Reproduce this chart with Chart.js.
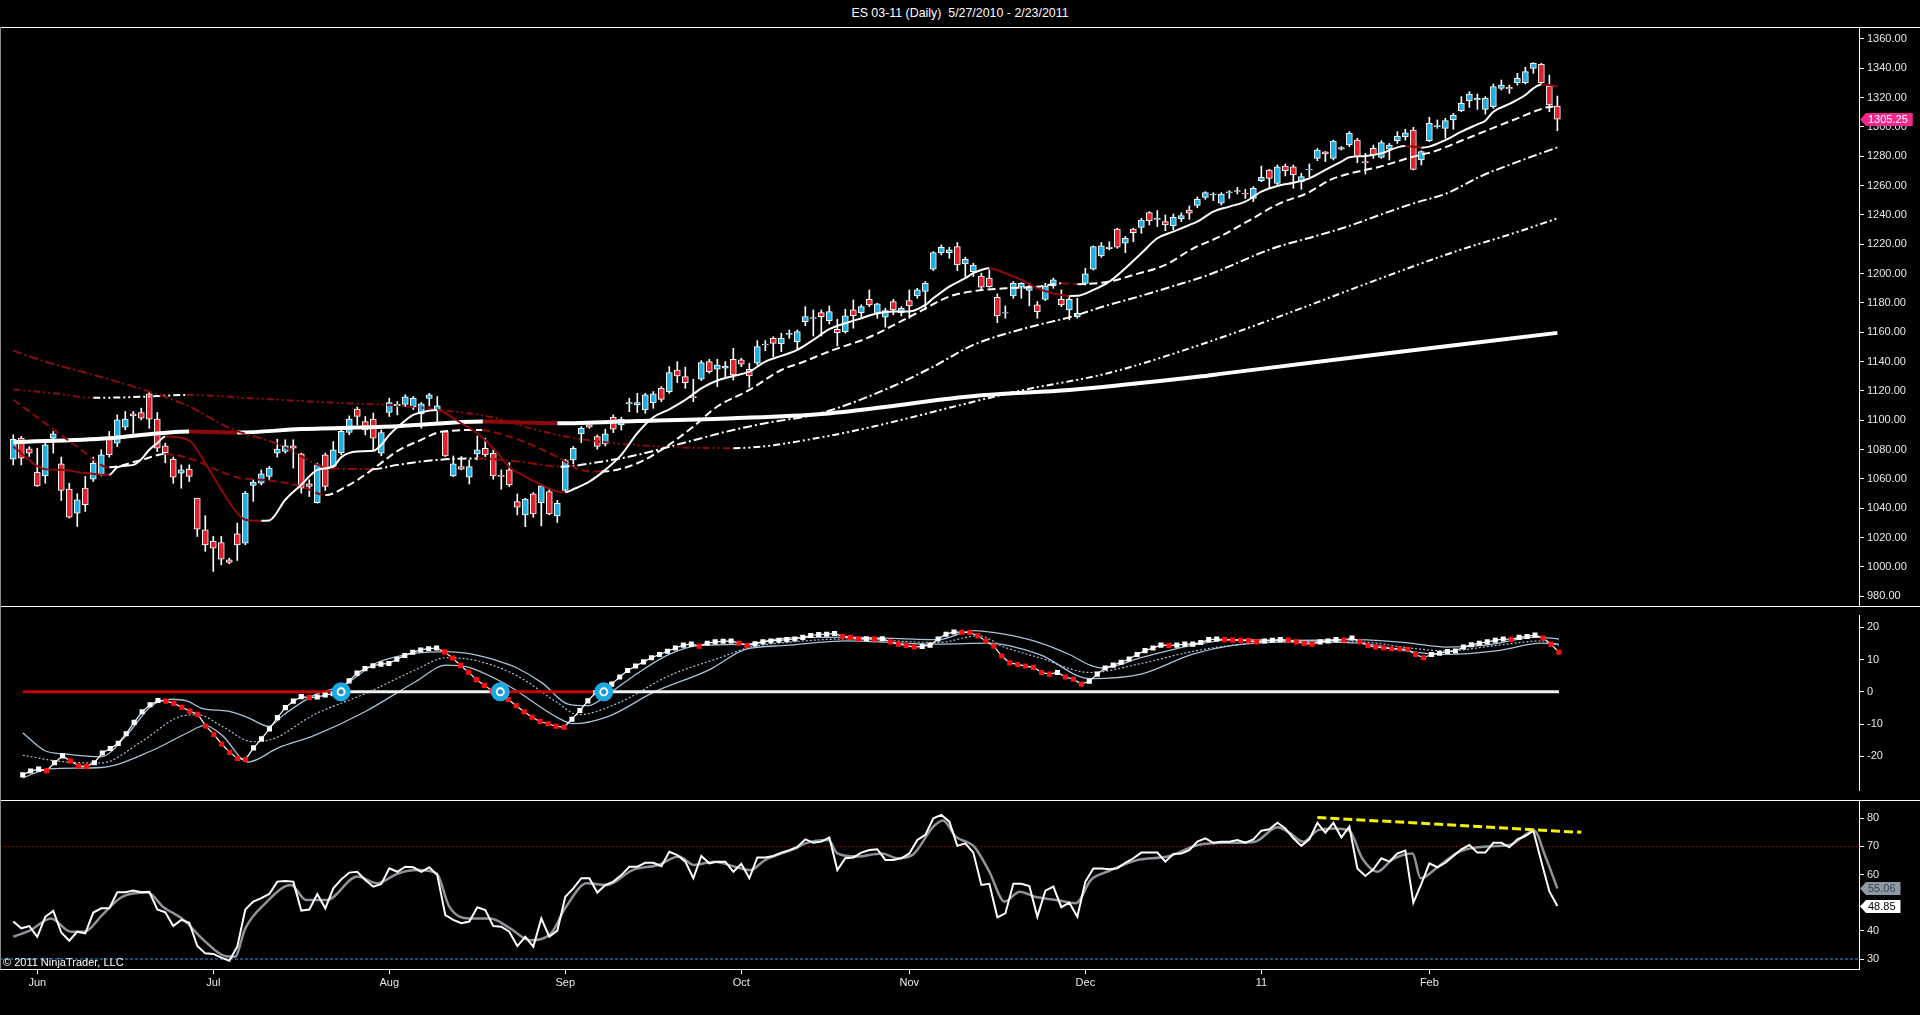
<!DOCTYPE html>
<html>
<head>
<meta charset="utf-8">
<script src="https://cdn.jsdelivr.net/npm/chart.js@4.4.1/dist/chart.umd.min.js"></script>
<style>
html,body{margin:0;padding:0;background:#000;width:1920px;height:1015px;overflow:hidden;}
canvas{position:absolute;left:0;}
.hl{position:absolute;left:0;height:1px;background:#fff;}
#title{position:absolute;top:6px;left:0;width:1920px;text-align:center;color:#fff;font:12.4px "Liberation Sans",Arial,sans-serif;line-height:14px;}
#copy{position:absolute;left:3px;top:956px;color:#fff;font:11px "Liberation Sans",Arial,sans-serif;line-height:13px;}
#lv{position:absolute;left:0;top:27px;width:1px;height:942px;background:#8a8a8a;}
</style>
</head>
<body>
<div id="title">ES 03-11 (Daily)&nbsp; 5/27/2010 - 2/23/2011</div>
<canvas id="c1" width="1920" height="579" style="top:27px;width:1920px;height:579px"></canvas>
<canvas id="c2" width="1920" height="194" style="top:606px;width:1920px;height:194px"></canvas>
<canvas id="c3" width="1920" height="215" style="top:800px;width:1920px;height:215px"></canvas>
<div class="hl" style="top:27px;width:1920px"></div>
<div class="hl" style="top:606px;width:1920px"></div>
<div class="hl" style="top:800px;width:1920px"></div>
<div id="lv"></div>
<div id="copy">© 2011 NinjaTrader, LLC</div>
<script>
// ---------------- DATA ----------------
const monthIdx = [3,25,47,69,91,112,134,156,177];
const monthLbl = ['Jun','Jul','Aug','Sep','Oct','Nov','Dec','11','Feb'];
const priceTicks = [980,1000,1020,1040,1060,1080,1100,1120,1140,1160,1180,1200,1220,1240,1260,1280,1300,1320,1340,1360];
const oscTicks = [-20,-10,0,10,20];
const rsiTicks = [30,40,60,70,80];

const openP = [
1073.5,1087.8,1080.5,1064.6,1062.1,1087.8,1070.3,1053.1,1036.7,1053.7,
1059.9,1063.5,1087.1,1084.4,1095.3,1104.4,1105.3,1118.0,1100.8,1082.6,
1073.5,1063.9,1066.7,1046.9,1025.3,1017.4,1016.7,1004.9,1022.6,1016.2,
1055.6,1057.1,1061.7,1077.6,1078.7,1082.6,1077.1,1056.7,1043.9,1076.5,
1068.5,1078.0,1091.7,1107.6,1099.2,1100.8,1077.6,1105.3,1110.0,1110.8,
1109.2,1104.4,1115.0,1106.6,1092.3,1062.1,1068.4,1061.2,1077.1,1080.9,
1077.5,1062.5,1066.2,1044.6,1035.5,1049.8,1043.9,1051.4,1034.8,1052.1,
1073.0,1090.7,1096.9,1088.9,1083.9,1102.1,1096.9,1111.1,1110.5,1107.1,
1112.1,1121.8,1119.6,1134.3,1129.8,1116.2,1128.0,1140.0,1134.8,1135.5,
1141.6,1141.2,1134.8,1138.9,1151.4,1155.9,1152.0,1158.6,1153.6,1167.3,
1169.4,1173.4,1168.0,1162.1,1160.5,1175.3,1173.4,1182.5,1172.5,1170.3,
1180.9,1173.4,1181.6,1184.8,1187.8,1203.0,1214.3,1214.3,1218.4,1206.6,
1201.4,1198.4,1196.9,1183.9,1173.0,1184.8,1190.7,1188.5,1178.7,1182.5,
1191.6,1182.5,1175.3,1170.7,1193.4,1203.0,1212.1,1217.1,1230.3,1220.7,
1230.3,1231.6,1241.6,1237.0,1235.5,1232.5,1237.5,1243.4,1246.5,1252.0,
1253.6,1248.0,1255.0,1256.1,1254.7,1251.3,1263.4,1270.7,1261.6,1273.4,
1272.9,1262.7,1270.7,1278.6,1283.0,1278.6,1284.8,1287.7,1291.1,1276.4,
1285.4,1279.3,1284.8,1290.7,1293.4,1297.9,1277.5,1290.7,1300.2,1299.1,
1304.8,1311.1,1317.9,1318.4,1312.0,1313.8,1326.3,1327.0,1330.2,1330.2,
1340.0,1342.7,1327.9,1314.3];
const highP = [
1090.1,1089.0,1082.0,1081.0,1085.5,1092.4,1074.9,1057.1,1049.9,1061.7,
1074.9,1079.9,1092.4,1103.7,1106.0,1106.0,1108.3,1119.6,1105.3,1084.4,
1074.9,1069.6,1069.6,1046.9,1034.9,1020.8,1020.8,1006.0,1029.9,1051.5,
1059.4,1066.2,1068.5,1087.1,1086.7,1086.7,1077.6,1059.4,1070.8,1077.6,
1085.5,1093.5,1103.0,1109.0,1102.6,1104.9,1093.5,1115.1,1112.8,1117.4,
1116.2,1112.1,1118.4,1116.2,1092.3,1075.7,1075.3,1073.0,1089.3,1087.8,
1079.8,1066.2,1071.2,1049.8,1046.9,1050.7,1055.9,1053.7,1045.3,1073.4,
1082.1,1095.7,1098.0,1090.0,1093.9,1103.7,1102.1,1115.0,1118.4,1118.4,
1119.6,1123.0,1136.6,1140.0,1136.2,1128.0,1140.7,1141.6,1141.6,1140.0,
1149.1,1142.3,1138.9,1154.3,1154.3,1157.0,1159.3,1161.6,1161.6,1177.5,
1175.3,1175.3,1178.0,1168.9,1175.7,1182.1,1178.7,1188.9,1179.8,1176.4,
1182.5,1177.5,1188.9,1190.0,1194.6,1215.0,1219.6,1218.0,1221.2,1211.2,
1207.1,1200.3,1202.5,1186.2,1178.0,1194.6,1193.9,1193.4,1181.0,1193.4,
1196.9,1188.9,1184.3,1183.2,1203.7,1218.9,1221.2,1221.8,1231.0,1225.3,
1231.0,1237.7,1242.3,1243.0,1240.0,1240.7,1241.4,1246.2,1252.3,1255.9,
1255.2,1255.2,1256.6,1258.8,1257.5,1259.3,1273.4,1271.1,1274.1,1274.8,
1274.1,1268.4,1274.8,1285.4,1283.2,1291.1,1286.6,1296.8,1292.3,1282.0,
1287.7,1290.7,1288.8,1296.8,1298.4,1299.8,1283.8,1306.6,1304.8,1305.9,
1309.3,1320.7,1324.1,1322.5,1320.7,1329.3,1332.0,1328.6,1336.6,1340.7,
1343.8,1343.4,1335.4,1321.1];
const lowP = [
1069.6,1069.6,1075.3,1054.9,1057.1,1077.6,1045.3,1033.3,1027.6,1037.8,
1058.3,1062.1,1074.9,1082.1,1093.5,1091.0,1100.3,1094.6,1078.7,1071.0,
1057.1,1053.7,1058.3,1020.8,1010.6,996.9,1001.5,1002.2,1004.4,1015.1,
1044.7,1056.0,1059.4,1074.9,1077.6,1067.4,1050.3,1048.0,1043.5,1052.1,
1067.4,1076.5,1090.1,1096.9,1090.1,1079.9,1075.8,1102.6,1103.7,1109.4,
1107.3,1094.6,1109.8,1099.1,1075.3,1061.6,1066.2,1056.6,1073.0,1075.3,
1059.8,1053.0,1054.8,1035.5,1027.5,1033.9,1028.0,1035.5,1030.3,1051.4,
1070.3,1084.8,1094.6,1080.3,1082.5,1091.6,1093.4,1105.9,1105.3,1104.8,
1108.2,1112.7,1118.4,1125.7,1121.8,1112.7,1127.1,1132.1,1123.0,1128.7,
1127.5,1136.6,1122.5,1137.7,1147.5,1143.4,1146.8,1155.9,1147.5,1164.4,
1157.5,1157.5,1165.7,1150.7,1159.4,1162.8,1170.7,1177.5,1169.6,1163.5,
1171.9,1171.2,1169.6,1183.2,1175.3,1202.1,1212.8,1210.5,1202.1,1198.0,
1198.0,1189.4,1190.7,1166.6,1169.6,1183.2,1183.2,1178.0,1169.6,1181.6,
1190.0,1177.5,1168.5,1169.6,1192.3,1202.5,1211.2,1216.2,1217.3,1214.3,
1221.8,1227.5,1233.2,1232.1,1229.3,1229.8,1235.5,1237.0,1245.0,1250.7,
1249.8,1246.8,1251.3,1254.3,1251.3,1249.1,1262.7,1258.2,1260.4,1266.6,
1258.2,1257.5,1266.1,1277.0,1276.4,1277.5,1284.3,1286.6,1275.7,1267.9,
1278.6,1278.6,1277.5,1288.8,1291.1,1270.7,1274.1,1290.0,1299.1,1292.3,
1298.4,1310.4,1313.4,1312.0,1308.8,1312.7,1325.2,1322.9,1328.6,1329.3,
1336.6,1329.3,1310.4,1297.5];
const closeP = [
1087.1,1074.2,1077.6,1055.3,1083.3,1090.8,1052.1,1034.0,1045.8,1042.4,
1070.8,1076.5,1076.5,1100.3,1100.8,1103.0,1101.5,1100.8,1081.0,1078.0,
1061.2,1066.2,1061.7,1025.8,1015.1,1012.8,1005.3,1003.1,1015.1,1050.3,
1057.8,1063.5,1067.4,1080.3,1082.6,1081.0,1053.7,1054.9,1069.6,1054.9,
1079.9,1092.4,1100.8,1102.6,1093.5,1087.8,1091.7,1112.1,1111.0,1116.0,
1115.0,1111.2,1117.3,1109.8,1075.7,1070.3,1066.6,1068.4,1079.8,1076.4,
1062.1,1061.7,1055.9,1040.7,1046.2,1036.2,1055.3,1036.2,1043.4,1072.5,
1080.9,1094.6,1095.3,1082.1,1090.7,1093.9,1100.7,1112.0,1112.1,1117.3,
1118.0,1114.3,1132.5,1130.2,1125.7,1115.5,1139.3,1133.2,1137.7,1137.0,
1130.9,1138.2,1130.2,1150.2,1151.9,1152.5,1155.9,1159.3,1160.5,1170.7,
1170.0,1170.7,1174.1,1159.8,1171.2,1171.4,1177.5,1178.7,1179.4,1174.8,
1175.3,1176.4,1178.0,1188.9,1193.4,1214.3,1218.0,1216.2,1205.9,1209.8,
1205.9,1190.7,1191.2,1171.2,1173.4,1193.4,1193.4,1191.6,1174.1,1191.6,
1195.7,1178.7,1182.5,1173.0,1199.8,1218.4,1218.9,1218.0,1218.0,1224.1,
1228.0,1236.6,1236.2,1237.7,1233.2,1238.4,1239.6,1241.2,1250.7,1255.2,
1254.3,1254.3,1255.8,1256.6,1254.3,1258.2,1265.7,1265.0,1272.9,1270.2,
1267.3,1266.1,1271.1,1284.3,1281.6,1290.4,1285.9,1295.7,1279.8,1275.7,
1280.9,1289.3,1287.7,1293.8,1296.1,1271.1,1283.2,1302.5,1300.9,1304.3,
1307.9,1316.1,1322.5,1319.5,1319.5,1327.5,1328.6,1326.1,1333.2,1337.7,
1343.4,1330.2,1315.0,1305.25];

// moving averages: [bar index, value]
const ma10 = [[0,1082.1],[4,1066.7],[6,1066.2],[9,1064],[12,1062.8],[13,1068],[15,1069.6],[16,1073.5],[17,1079.9],[18,1084.4],[19,1089],[22,1086.2],[24,1070.8],[26,1052.6],[28,1036.7],[29,1032.2],[31,1031.5],[32,1031.7],[34,1045.8],[36,1056],[38,1066.2],[40,1068.5],[41,1074.9],[43,1078.7],[45,1079.2],[46,1083.3],[47,1090.1],[49,1099.9],[50,1103.7],[52,1106.6],[53,1107.1],[54,1104.8],[56,1098],[58,1091.2],[60,1080.9],[62,1068.4],[64,1061.6],[66,1055.9],[68,1051.4],[69,1050.9],[70,1053],[72,1058.2],[74,1066.2],[76,1076.4],[78,1091.2],[80,1102.1],[82,1107.5],[84,1113.9],[86,1121.8],[88,1127.1],[90,1130.2],[92,1133.2],[94,1140],[96,1143.9],[98,1148],[100,1154.8],[102,1162.1],[104,1166.2],[106,1169.6],[108,1173],[110,1174.1],[112,1174.2],[114,1178.7],[115,1183.2],[117,1191.2],[119,1196.9],[120,1200.3],[122,1203.7],[124,1200.3],[126,1195.7],[128,1190],[130,1186.6],[132,1184.8],[133,1184.9],[135,1188.9],[137,1194.6],[139,1203.7],[141,1213.9],[143,1224.1],[145,1228.7],[147,1233.2],[148,1235.4],[150,1242.3],[152,1245.7],[154,1249.1],[156,1255.9],[158,1259.8],[160,1262],[162,1265],[164,1270.7],[166,1276.4],[167,1279.3],[169,1280.2],[171,1282],[173,1286.1],[174,1287],[175,1286.6],[176,1285.9],[177,1286.6],[179,1291.1],[181,1296.8],[183,1301.8],[184,1304.3],[185,1310.4],[187,1315.7],[189,1321.8],[190,1326.3],[191,1329],[192,1328.6],[193,1327.5]];
const ma20 = [[0,1114],[4,1098],[8,1082],[12,1068],[16,1073],[19,1077],[22,1074],[28,1061],[32,1059],[36,1055],[39,1049],[42,1056],[44,1063],[46,1071],[48,1079],[51,1086.7],[53.6,1092.3],[58.6,1093.4],[60,1092],[64,1085],[68,1075],[71,1066],[73.5,1065],[78,1070.7],[81.6,1082],[85,1095.7],[88,1109.4],[92,1120.7],[96,1134.3],[98.3,1138.9],[102.5,1148],[106.7,1156],[112.9,1173],[117,1184.4],[120.4,1188.4],[124,1190],[128,1191],[131,1193.4],[133,1192.8],[137,1194.6],[140,1199.1],[144,1206],[147.5,1217.3],[150.8,1225.2],[154.2,1235.4],[158.3,1247.9],[161.7,1254.8],[164.6,1263.9],[167.1,1268.4],[170.8,1272.9],[175,1279.8],[177.5,1283.2],[181.2,1291.1],[183.3,1295.7],[187.5,1304.8],[191.7,1313.4],[193,1314.3]];
const ma50 = [[0,1147.5],[4,1140],[10,1131],[17,1119.6],[22,1109.4],[27,1094.8],[33,1084],[40,1067],[45,1066.7],[48,1069.6],[53,1073],[58,1074],[63,1072],[68.4,1068.4],[73.5,1071.8],[78,1076.4],[82,1082],[86,1087.8],[90,1093.4],[94,1098],[101,1105],[109.4,1121.9],[115,1136.6],[120,1151.4],[126.5,1162.8],[132.3,1170.7],[136.5,1178],[140.7,1184.4],[144.8,1191.2],[149,1198.4],[157.5,1217.3],[162.5,1225.2],[166.7,1232],[170.8,1240],[175,1247.9],[179.2,1254.8],[183.3,1266.1],[187.5,1275.2],[193,1286.1]];
const ma100 = [[0,1121],[5,1118.5],[10,1115.3],[16,1116],[21.7,1117.3],[30,1115],[40,1112],[48,1110],[55,1106],[60,1102],[65,1094],[70,1088],[78,1083],[90,1081],[101,1088.4],[126.3,1120.7],[136.8,1132.1],[148.3,1151.4],[180.8,1216.1],[187.5,1227.5],[193,1237.7]];
const ma200 = [[0,1085],[12,1087.8],[22,1092.4],[28,1091.7],[36,1094],[48,1096],[58.7,1099.1],[68,1098],[78,1099.5],[90,1101.4],[101,1104.3],[121,1117],[132,1120.7],[148.3,1129.8],[151.4,1132],[170,1144.5],[193,1159.6]];

// oscillator panel
const osc = [
-25.8,-24.6,-24.0,-24.5,-22.0,-19.9,-21.5,-23.0,-23.2,-22.0,
-19.0,-17.6,-16.0,-13.0,-9.5,-6.2,-4.0,-2.7,-2.9,-3.6,
-4.8,-6.0,-7.0,-10.6,-13.2,-16.2,-18.8,-20.7,-21.0,-17.4,
-14.6,-11.5,-8.0,-4.9,-2.9,-1.5,-1.8,-1.6,-1.0,-0.6,
0.5,3.4,5.8,7.2,8.1,8.6,8.8,10.1,11.3,12.3,
13.0,13.4,13.6,12.4,10.5,8.2,6.1,3.8,2.0,0.3,
-1.0,-2.4,-4.3,-6.2,-7.9,-9.2,-9.9,-10.7,-11.0,-8.5,
-5.8,-2.8,-0.2,1.2,2.4,4.6,6.6,8.0,9.3,10.6,
11.6,12.6,13.6,14.5,14.8,14.2,15.1,15.5,15.7,15.8,
15.1,14.4,14.9,15.5,15.8,16.0,16.2,16.4,16.9,17.5,
17.8,17.9,18.1,17.2,16.9,16.5,16.5,16.4,16.5,15.5,
14.8,14.4,13.9,14.1,14.5,16.4,17.9,18.6,18.5,18.4,
17.4,15.8,14.2,11.1,9.0,8.5,8.0,7.6,6.0,5.5,
6.0,4.6,3.9,2.4,3.3,5.5,7.4,8.3,9.2,10.2,
11.6,12.8,13.6,14.5,14.4,14.5,14.8,14.8,15.3,16.2,
16.4,16.2,16.1,16.0,15.9,15.5,15.8,16.0,16.2,16.1,
15.5,15.0,14.8,15.5,15.8,16.2,16.1,16.7,15.5,14.4,
13.9,13.6,13.4,13.3,13.2,11.6,10.6,11.6,12.0,12.5,
12.7,13.9,14.6,15.1,15.5,16.0,16.4,16.3,16.9,17.2,
17.6,16.7,14.8,12.3];
const oscA = [[0,-12.7],[2.8,-18.3],[5.3,-19.3],[9.8,-20.2],[13,-13.6],[16.2,-4.3],[18.7,-2.3],[20.7,-2.9],[22.6,-5.2],[25.8,-6.0],[28.3,-8.0],[30.9,-10.7],[32.8,-7.1],[36.6,-1.0],[40.4,2.2],[44.3,8.8],[49.4,12.0],[53.2,12.5],[55.7,12.0],[59.6,9.7],[62.1,7.4],[65.3,2.7],[68.5,-3.8],[71,-4.3],[73.6,-0.6],[77.4,6.0],[81.2,11.6],[85,14.4],[90.8,14.8],[95.8,16.7],[103.5,17],[115,16.2],[119.4,19.0],[123.3,17.9],[127.7,15.3],[131.5,11.6],[134.1,8.3],[135.7,7.4],[140.5,10.6],[146.9,14.4],[152,16.2],[159.6,16],[167.9,16.2],[174.3,15.1],[178.8,13.9],[183.8,14.5],[190.2,17],[193,16.4]];
const oscB = [[0,-19.7],[4.7,-21.6],[9.8,-22.1],[14.9,-15.5],[19.4,-8.0],[22,-7.1],[25.1,-10.8],[28.9,-15.5],[31.5,-14.6],[36.6,-7.1],[43,-0.6],[49.4,6.9],[53.2,10.6],[57,9.7],[62.1,5.0],[67.2,-3.4],[69.8,-7.1],[74.9,-3.4],[81.2,5.0],[87.6,10.6],[91.4,13.9],[95.8,15.3],[103.5,16.4],[115,15.3],[120.1,17.4],[123.3,13.9],[127.7,10.6],[134.1,6],[140.5,8.8],[146.9,12.5],[153.2,14.8],[159.6,15.5],[167.9,15.5],[174.3,13.6],[178.8,12.7],[185.1,14.4],[190.9,15.8],[193,14.4]];
const oscC = [[0,-26.7],[3.4,-23.9],[9.8,-23.5],[16.2,-18.3],[20.7,-12.7],[22.9,-10.4],[25.1,-13.6],[28.3,-21.8],[32.1,-17.4],[36.6,-13.6],[43,-6.2],[49.4,3.2],[53.2,8.3],[55.7,7.8],[60.8,2.2],[67.2,-8.0],[69.1,-9.9],[73.6,-7.6],[79.3,-0.1],[86.3,6.9],[90.8,13.2],[95.8,14.4],[103.5,15.8],[115,14.8],[121.3,15.1],[127.7,11.6],[134.1,4.1],[140.5,5.5],[146.9,11.6],[152,14.4],[159.6,15.5],[167.9,15.1],[174.3,12.5],[178.8,11.6],[185.1,12.7],[190.9,15.1],[193,14.8]];

// RSI panel
const rsi = [
43.3,40.9,41.7,37.9,45.0,47.1,39.4,36.5,39.7,39.1,
46.5,48.0,48.0,53.7,53.7,54.3,53.7,53.9,47.6,46.6,
41.7,43.9,42.9,34.6,32.0,31.8,30.5,29.4,34.4,47.6,
50.4,51.6,53.1,57.5,57.7,57.5,47.2,47.6,53.1,48.0,
55.1,58.3,60.7,61.0,58.1,55.7,56.7,62.2,61.0,62.8,
62.6,61.0,62.6,59.8,45.6,43.9,42.7,43.3,48.4,47.4,
41.7,41.5,39.7,34.6,37.9,34.4,44.4,37.9,40.1,52.1,
55.1,58.7,58.7,53.6,56.3,57.5,59.8,62.8,62.8,64.2,
64.2,63.0,68.1,66.9,64.6,58.7,66.6,64.0,64.6,64.6,
61.0,63.8,58.7,66.1,66.1,66.6,67.8,68.7,69.8,72.5,
71.3,71.7,73.2,61.6,65.8,66.1,67.8,68.7,69.0,65.2,
65.2,65.8,67.5,72.3,74.1,80.0,81.2,78.8,70.2,71.1,
67.8,56.3,56.7,44.8,46.2,56.7,56.7,55.9,45.0,54.3,
55.7,48.4,50.0,45.0,57.5,62.2,62.2,61.9,62.2,64.2,
65.8,67.8,67.8,67.8,64.6,67.3,67.5,68.7,71.7,72.9,
71.3,71.7,71.7,72.3,71.3,72.5,75.6,76.1,78.4,76.4,
72.9,70.2,72.5,78.4,74.9,78.4,73.2,77.0,62.2,59.5,
61.9,65.8,64.6,67.5,68.5,50.0,56.7,64.0,62.6,64.2,
66.6,69.0,70.5,67.8,67.8,71.3,71.3,69.7,72.5,73.7,
75.6,64.6,54.0,48.85];
const rsiAvg = [[0,37.9],[2.2,40.3],[4.7,44.4],[7.2,39.7],[8.9,39.7],[11.1,45.6],[13.6,52.1],[16.8,53.6],[18.7,48.6],[21.3,43.9],[23.8,36.7],[26.4,31.1],[27.7,30.8],[29,40.9],[31.5,49.8],[34.7,56.3],[36.6,51],[39.2,51],[43,59.3],[45.5,56.9],[48.1,60.4],[50.6,61.6],[52.9,60.4],[54.5,48.6],[57,44.4],[59.6,44.4],[62.1,40.9],[64.6,36.7],[67.2,39.1],[69.1,48.6],[71.7,56.9],[74.2,56.3],[77.4,61.6],[80.6,63.4],[83.2,66.4],[85.1,63.4],[87.6,64.6],[90.2,62.8],[92.1,61.6],[94,65.2],[97.8,69.3],[99,71.1],[101.9,72.3],[103,67.5],[105.4,66.4],[108.6,67.5],[110.5,65.8],[112.4,67],[115,77],[116.2,79.2],[117.8,73.5],[120.1,69.9],[122,61],[123.9,50.4],[125.8,53.9],[127.7,52.1],[130.3,51],[132.8,49.8],[134.7,58.1],[136.7,61],[140.5,65.2],[144.3,66.4],[148.1,70.5],[152,71.3],[155.2,71.7],[158,76.8],[159.6,74.7],[161.2,71.7],[163.1,75.8],[165,76.4],[167,75.6],[168.6,65.8],[170.5,61],[172.4,65.4],[174.9,67.5],[175.9,58.7],[178.1,62.8],[180.7,68.1],[183.8,69.9],[187,70.5],[190.1,75.6],[191.5,66.4],[193,55.06]];
const rsiLevelHigh = 70;
const rsiLevelLow = 30;
const trendLine = [[163,80.3],[196,75.0]];

// ---------------- STYLE ----------------
const FONT = '"Liberation Sans", Arial, sans-serif';
const X_MIN = -1.66, X_MAX = 230.7;
const UP = '#1eaee6', DOWN = '#e3202a', MA_RED = '#8e0a0a';
const LBLUE = '#a6c3da';

function pts(pairs){ return pairs.map(p => ({x:p[0], y:p[1]})); }
function seriesPts(arr){ return arr.map((v,i) => ({x:i, y:v})); }

const tagPlugin = {
  id:'tags',
  afterDraw(chart, args, opts){
    const tags = opts.items || [];
    const ctx = chart.ctx, ys = chart.scales.y;
    const x0 = chart.chartArea.right + 1;
    ctx.save();
    ctx.font = '11px ' + FONT;
    tags.forEach(t => {
      const py = Math.round(ys.getPixelForValue(t.value)) + 0.5;
      const w = ctx.measureText(t.text).width + 7;
      const h = 13;
      ctx.beginPath();
      ctx.moveTo(x0, py);
      ctx.lineTo(x0 + 6, py - h/2);
      ctx.lineTo(x0 + 6 + w, py - h/2);
      ctx.lineTo(x0 + 6 + w, py + h/2);
      ctx.lineTo(x0 + 6, py + h/2);
      ctx.closePath();
      ctx.fillStyle = t.fill; ctx.fill();
      ctx.fillStyle = t.color;
      ctx.textBaseline = 'middle';
      ctx.fillText(t.text, x0 + 8, py + 0.5);
    });
    ctx.restore();
  }
};

function makeOptions(yMin, yMax, yTicks, fmt, showX, tags){
  return {
    responsive:false, animation:false, devicePixelRatio:1, events:[],
    layout:{padding:0},
    plugins:{legend:{display:false}, tooltip:{enabled:false}, title:{display:false}, tags:{items:tags}},
    scales:{
      x:{type:'linear', min:X_MIN, max:X_MAX, offset:false, bounds:'data', display:showX,
         grid:{display:true, drawOnChartArea:false, drawTicks:true, tickLength:5, color:'#fff'},
         border:{display:true, color:'#fff', width:1},
         ticks:{autoSkip:false, maxRotation:0, color:'#e8e8e8', padding:2, font:{family:FONT, size:11},
                callback:(v,i) => monthLbl[i]},
         afterBuildTicks:s => { s.ticks = monthIdx.map(v => ({value:v})); },
         afterFit:s => { s.height = showX ? 45.7 : 0; s.paddingLeft = 0; s.paddingRight = 0; }},
      y:{type:'linear', position:'right', min:yMin, max:yMax, bounds:'data',
         grid:{drawOnChartArea:false, drawTicks:true, tickLength:5, color:'#fff'},
         border:{display:true, color:'#fff', width:1},
         ticks:{autoSkip:false, color:'#e8e8e8', padding:3, font:{family:FONT, size:11}, callback:fmt},
         afterBuildTicks:s => { s.ticks = yTicks.map(v => ({value:v})); },
         afterFit:s => { s.width = 61; s.paddingTop = 0; s.paddingBottom = 0; }}
    }
  };
}

function maLine(pairs, width, dash, order){
  return {type:'line', data:pts(pairs), borderWidth:width, borderDash:dash, pointRadius:0,
          cubicInterpolationMode:'monotone', borderColor:'#fff', borderCapStyle:'butt', order,
          segment:{borderColor: c => c.p1.parsed.y >= c.p0.parsed.y ? '#ffffff' : MA_RED}};
}

// ---------------- PRICE PANEL ----------------
new Chart(document.getElementById('c1'), {
  type:'line',
  data:{datasets:[
    {type:'bar', data: lowP.map((l,i) => ({x:i, y:[l, highP[i]]})), barThickness:1, backgroundColor:'#ffffff',
     borderWidth:0, grouped:false, order:20},
    {type:'bar', data: openP.map((o,i) => ({x:i, y:[o, closeP[i]]})), barThickness:6,
     backgroundColor: closeP.map((c,i) => c >= openP[i] ? UP : DOWN), borderColor:'#ffffff', borderWidth:1,
     borderSkipped:false, grouped:false, order:19},
    maLine(ma200, 4, [], 5),
    maLine(ma100, 2, [7,3,2,3,2,3], 4),
    maLine(ma50, 2, [9,3,2,3], 3),
    maLine(ma20, 2, [8,4], 2),
    maLine(ma10, 2, [], 1)
  ]},
  options: makeOptions(973.37, 1368.18, priceTicks, v => Number(v).toFixed(2), false,
    [{value: closeP[closeP.length-1], text: closeP[closeP.length-1].toFixed(2), fill:'#f2288c', color:'#ffffff'}]),
  plugins:[tagPlugin]
});

// ---------------- OSCILLATOR PANEL ----------------
const crossIdx = [];
for (let i = 1; i < osc.length; i++) { if ((osc[i] >= 0) !== (osc[i-1] >= 0)) crossIdx.push(i); }

new Chart(document.getElementById('c2'), {
  type:'line',
  data:{datasets:[
    {data:pts(oscA), borderColor:LBLUE, borderWidth:1.3, pointRadius:0, cubicInterpolationMode:'monotone', order:8},
    {data:pts(oscB), borderColor:LBLUE, borderWidth:1.2, borderDash:[2,2], pointRadius:0, cubicInterpolationMode:'monotone', order:7},
    {data:pts(oscC), borderColor:LBLUE, borderWidth:1.3, pointRadius:0, cubicInterpolationMode:'monotone', order:6},
    {data: osc.map((v,i) => ({x:i, y:0})), borderWidth:3, pointRadius:0, borderColor:'#ffffff', order:5,
     segment:{borderColor: c => osc[c.p1DataIndex] >= 0 ? '#f2f2f2' : '#c80000'}},
    {data: seriesPts(osc), borderColor:'#ffffff', borderWidth:1.2, pointStyle:'rect', pointRadius:3.6,
     pointBorderWidth:0, pointBackgroundColor: osc.map((v,i) => (i > 0 && v < osc[i-1]) ? '#ff1010' : '#ffffff'), order:3},
    {data: crossIdx.map(i => ({x:i, y:0})), showLine:false, pointRadius:9.5, pointBorderWidth:0,
     pointBackgroundColor:'#19a9e5', order:2},
    {data: crossIdx.map(i => ({x:i, y:0})), showLine:false, pointRadius:3.5, pointBorderWidth:2,
     pointBorderColor:'#ffffff', pointBackgroundColor:'#1590c8', order:1}
  ]},
  options: makeOptions(-30.64, 23.70, oscTicks, v => String(v), false, [])
});

// ---------------- RSI PANEL ----------------
new Chart(document.getElementById('c3'), {
  type:'line',
  data:{datasets:[
    {data:[{x:X_MIN,y:rsiLevelHigh},{x:X_MAX,y:rsiLevelHigh}], borderColor:'#9a0000', borderWidth:1, borderDash:[2,2], pointRadius:0, order:9},
    {data:[{x:X_MIN,y:rsiLevelLow},{x:X_MAX,y:rsiLevelLow}], borderColor:'#2a9ff0', borderWidth:1, borderDash:[3,2], pointRadius:0, order:8},
    {data:pts(rsiAvg), borderColor:'#8d9399', borderWidth:2.5, pointRadius:0, cubicInterpolationMode:'monotone', order:3},
    {data:seriesPts(rsi), borderColor:'#ffffff', borderWidth:2, pointRadius:0, order:2},
    {data:pts(trendLine), borderColor:'#f4f000', borderWidth:3, borderDash:[9,4], pointRadius:0, order:1}
  ]},
  options: makeOptions(26.34, 86.50, rsiTicks, v => String(v), true,
    [{value: rsiAvg[rsiAvg.length-1][1], text: rsiAvg[rsiAvg.length-1][1].toFixed(2), fill:'#8e99a5', color:'#3a4550'},
     {value: rsi[rsi.length-1], text: rsi[rsi.length-1].toFixed(2), fill:'#ffffff', color:'#000000'}]),
  plugins:[tagPlugin]
});
</script>
</body>
</html>
